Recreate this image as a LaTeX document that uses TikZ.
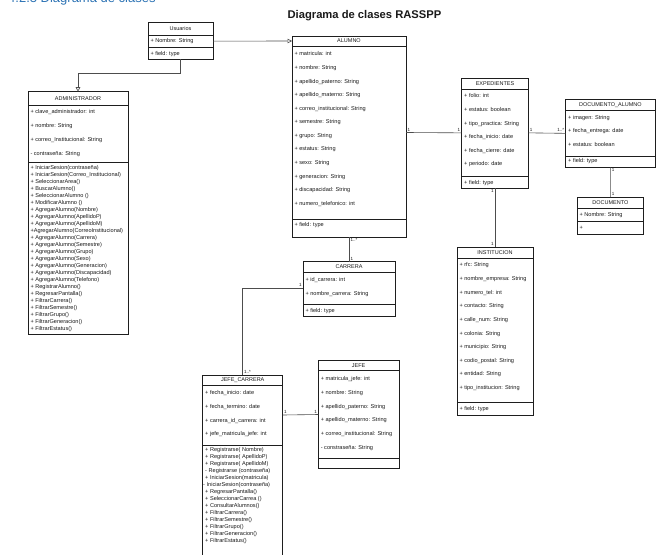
\documentclass[tikz,border=0pt]{standalone}
\usepackage{xcolor}
\usepackage{fontspec}
\setmainfont{Liberation Sans}
\usepackage{tikz}
\usetikzlibrary{arrows.meta,positioning}
\definecolor{BoxLine}{HTML}{1E1E1E}
\definecolor{LinkGray}{HTML}{4D4D4D}
\definecolor{TextDark}{HTML}{1A1A1A}
\definecolor{HeadingBlue}{HTML}{2E74B5}
\newcommand{\memberlist}[4]{%
    \parbox[c][#1][t]{\linewidth}{\fontsize{5.6}{#2}\selectfont\spaceskip=0pt\xspaceskip=0pt\rule{0pt}{#3}#4}%
}
\tikzset{
    chead/.style={draw=BoxLine, line width=0.8pt, fill=white, outer sep=0pt,
        inner xsep=2.5pt, inner ysep=0pt, text width=#1, align=center,
        minimum height=11pt, text=TextDark, font=\fontsize{5.5}{6.5}\selectfont},
    cpart/.style={draw=BoxLine, line width=0.8pt, fill=white, outer sep=0pt,
        inner xsep=2.5pt, inner ysep=0pt, text width=#1, align=left, text=TextDark},
    link/.style={draw=LinkGray, line width=0.6pt},
    gen/.style={link, -{Triangle[open, length=4.5pt, width=4.5pt, fill=white]}},
    mult/.style={font=\fontsize{4.5}{5}\selectfont, text=TextDark, inner sep=1.2pt}
}

\begin{document}
\begin{tikzpicture}[x=1pt, y=-1pt]
    \useasboundingbox (0,0) rectangle (663,554);
    \fill[white] (0,0) rectangle (663,554);

    \node[anchor=base west, inner sep=0pt, text=HeadingBlue, font=\fontsize{13}{15}\selectfont] (heading) at (8,2.5) {4.2.3 Diagrama de clases};
    \node[text=TextDark, font=\bfseries\fontsize{11.2}{13}\selectfont] (title) at (364.5,15.5) {Diagrama de clases RASSPP};

    \node[chead=60pt, minimum height=13pt, anchor=north west] (usu) at (148,22) {Usuarios};
    \node[cpart=60pt, below=0pt of usu] (usu-at) {\memberlist{12.3pt}{13pt}{7.9pt}{+ Nombre: String}};
    \node[cpart=60pt, below=0pt of usu-at] (usu-op) {\memberlist{12pt}{13pt}{7.9pt}{+ field: type}};

    \node[chead=95pt, minimum height=14pt, anchor=north west] (adm) at (28,91.7) {ADMINISTRADOR};
    \node[cpart=95pt, below=0pt of adm] (adm-at) {\memberlist{56.6pt}{13.8pt}{7.9pt}{+ clave\_administrador: int\\+ nombre: String\\+ correo\_Institucional: String\\- contraseña: String}};
    \node[cpart=95pt, below=0pt of adm-at] (adm-op) {\memberlist{171.7pt}{7pt}{7.6pt}{+ IniciarSesion(contraseña)\\+ IniciarSesion(Correo\_Institucional)\\+ SeleccionarArea()\\+ BuscarAlumno()\\+ SeleccionarAlumno ()\\+ ModificarAlumno ()\\+ AgregarAlumno(Nombre)\\+ AgregarAlumno(ApellidoP)\\+ AgregarAlumno(ApellidoM)\\+AgregarAlumno(CorreoInstitucional)\\+ AgregarAlumno(Carrera)\\+ AgregarAlumno(Semestre)\\+ AgregarAlumno(Grupo)\\+ AgregarAlumno(Sexo)\\+ AgregarAlumno(Generacion)\\+ AgregarAlumno(Discapacidad)\\+ AgregarAlumno(Telefono)\\+ RegistrarAlumno()\\+ RegresarPantalla()\\+ FiltrarCarrera()\\+ FiltrarSemestre()\\+ FiltrarGrupo()\\+ FiltrarGeneracion()\\+ FiltrarEstatus()}};

    \node[chead=109pt, minimum height=10pt, anchor=north west] (alu) at (292,36) {ALUMNO};
    \node[cpart=109pt, below=0pt of alu] (alu-at) {\memberlist{173pt}{13.57pt}{9.9pt}{+ matricula: int\\+ nombre: String\\+ apellido\_paterno: String\\+ apellido\_materno: String\\+ correo\_institucional: String\\+ semestre: String\\+ grupo: String\\+ estatus: String\\+ sexo: String\\+ generacion: String\\+ discapacidad: String\\+ numero\_telefonico: int}};
    \node[cpart=109pt, below=0pt of alu-at] (alu-op) {\memberlist{18.3pt}{13pt}{7.9pt}{+ field: type}};

    \node[chead=61.6pt, minimum height=10.7pt, anchor=north west] (exp) at (461.7,78.3) {EXPEDIENTES};
    \node[cpart=61.6pt, below=0pt of exp] (exp-at) {\memberlist{87.7pt}{13.6pt}{8.9pt}{+ folio: int\\+ estatus: boolean\\+ tipo\_practica: String\\+ fecha\_inicio: date\\+ fecha\_cierre: date\\+ periodo: date}};
    \node[cpart=61.6pt, below=0pt of exp-at] (exp-op) {\memberlist{11.6pt}{13pt}{7.9pt}{+ field: type}};

    \node[chead=84.3pt, minimum height=11.4pt, anchor=north west] (doca) at (565.7,99.3) {DOCUMENTO\_ALUMNO};
    \node[cpart=84.3pt, below=0pt of doca] (doca-at) {\memberlist{45.3pt}{13.3pt}{8.9pt}{+ imagen: String\\+ fecha\_entrega: date\\+ estatus: boolean}};
    \node[cpart=84.3pt, below=0pt of doca-at] (doca-op) {\memberlist{11.3pt}{13pt}{6.9pt}{+ field: type}};

    \node[chead=61.6pt, minimum height=11pt, anchor=north west] (doc) at (577.05,197.3) {DOCUMENTO};
    \node[cpart=61.6pt, below=0pt of doc] (doc-at) {\memberlist{13.4pt}{13pt}{8.6pt}{+ Nombre: String}};
    \node[cpart=61.6pt, below=0pt of doc-at] (doc-op) {\memberlist{12.3pt}{13pt}{7.5pt}{+}};

    \node[chead=87pt, minimum height=10.6pt, anchor=north west] (car) at (303,261.7) {CARRERA};
    \node[cpart=87pt, below=0pt of car] (car-at) {\memberlist{32pt}{14pt}{9.6pt}{+ id\_carrera: int\\+ nombre\_carrera: String}};
    \node[cpart=87pt, below=0pt of car-at] (car-op) {\memberlist{11.7pt}{13pt}{8.3pt}{+ field: type}};

    \node[chead=71pt, minimum height=11pt, anchor=north west] (ins) at (457,247.3) {INSTITUCION};
    \node[cpart=71pt, below=0pt of ins] (ins-at) {\memberlist{144.4pt}{13.63pt}{8.6pt}{+ rfc: String\\+ nombre\_empresa: String\\+ numero\_tel: int\\+ contacto: String\\+ calle\_num: String\\+ colonia: String\\+ municipio: String\\+ codio\_postal: String\\+ entidad: String\\+ tipo\_institucion: String}};
    \node[cpart=71pt, below=0pt of ins-at] (ins-op) {\memberlist{12.3pt}{13pt}{8.2pt}{+ field: type}};

    \node[chead=75pt, minimum height=10pt, anchor=north west] (jcar) at (202.7,375) {JEFE\_CARRERA};
    \node[cpart=75pt, below=0pt of jcar] (jcar-at) {\memberlist{60pt}{13.77pt}{9.6pt}{+ fecha\_inicio: date\\+ fecha\_termino: date\\+ carrera\_id\_carrera: int\\+ jefe\_matricula\_jefe: int}};
    \node[cpart=75pt, below=0pt of jcar-at] (jcar-op) {\memberlist{115pt}{7pt}{6.9pt}{+ Registrarse( Nombre)\\+ Registrarse( ApellidoP)\\+ Registrarse( ApellidoM)\\- Registrarse (contraseña)\\+ IniciarSesion(matricula)\\\hspace*{-2pt}- IniciarSesion(contraseña)\\+ RegresarPantalla()\\+ SeleccionarCarrea ()\\+ ConsultarAlumnos()\\+ FiltrarCarrera()\\+ FiltrarSemestre()\\+ FiltrarGrupo()\\+ FiltrarGeneracion()\\+ FiltrarEstatus()}};

    \node[chead=75.7pt, minimum height=10.7pt, anchor=north west] (jefe) at (318.3,360) {JEFE};
    \node[cpart=75.7pt, below=0pt of jefe] (jefe-at) {\memberlist{87.6pt}{13.66pt}{10.2pt}{+ matricula\_jefe: int\\+ nombre: String\\+ apellido\_paterno: String\\+ apellido\_materno: String\\+ correo\_institucional: String\\- constraseña: String}};
    \node[cpart=75.7pt, below=0pt of jefe-at] (jefe-op) {\memberlist{10pt}{7pt}{5pt}{}};

    \draw[gen] (usu-at.east) -- (alu.west);
    \draw[gen] (usu-op.south) -- ++(0,14) -| (adm.north);
    \draw[link] (alu-at.east) -- node[mult, at start, above right] {1} node[mult, at end, above left] {1} (exp-at.west);
    \draw[link] (exp-at.east) -- node[mult, at start, above right] {1} node[mult, at end, above left] {1..*} (doca-at.west);
    \draw[link] (doca-op.south) -- node[mult, at start, below right] {1} node[mult, at end, above right] {1} (doc.north);
    \draw[link] (alu-op.south) -- node[mult, at start, below right] {1..*} node[mult, at end, above right] {1} (car.north);
    \draw[link] (exp-op.south) -- node[mult, at start, below left] {1} node[mult, at end, above left] {1} (ins.north);
    \draw[link] (car-at.west) -| node[mult, at start, above left] {1} node[mult, at end, above right] {1..*} (jcar.north);
    \draw[link] (jcar-at.east) -- node[mult, at start, above right] {1} node[mult, at end, above left] {1} (jefe-at.west);
\end{tikzpicture}
\end{document}
